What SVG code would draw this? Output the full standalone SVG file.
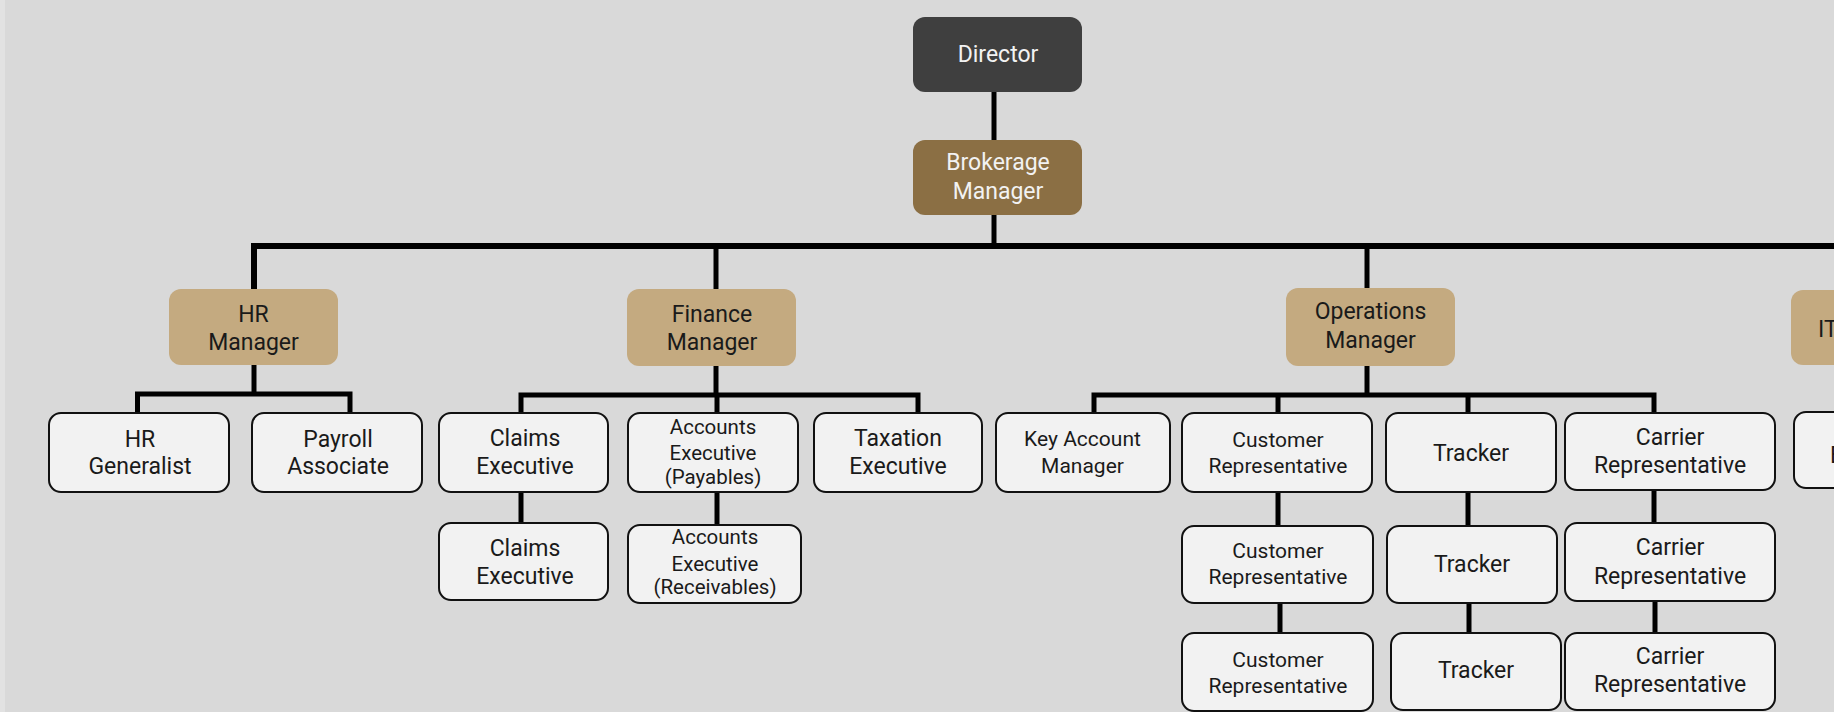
<svg xmlns="http://www.w3.org/2000/svg" width="1834" height="712" viewBox="0 0 1834 712">
<style>
.bg{fill:#d9d9d9}
.conn{fill:none;stroke:#000;stroke-width:5;stroke-linejoin:miter;stroke-linecap:butt}
.bus{stroke-width:6}
.top{fill:#3f3f3f}
.brk{fill:#8b6f44}
.mgr{fill:#c4aa80}
.box{fill:#f2f2f2;stroke:#111;stroke-width:2}
text{font-family:Roboto,"Noto Sans","Liberation Sans",sans-serif;font-size:23px;text-anchor:middle;fill:#1a1a1a}
.lt{fill:#f2f2f2}
.sm{font-size:21px}
.xs{font-size:20.5px}
</style>
<rect class="bg" x="0" y="0" width="1834" height="712"/>
<rect x="0" y="0" width="5" height="712" fill="#e2e2e2"/>
<g id="connectors">
<path class="conn" d="M994 92V140"/>
<path class="conn" d="M994 215V246"/>
<path class="conn bus" d="M254 289V246H1834"/>
<path class="conn" d="M716 246V289"/>
<path class="conn" d="M1367 246V288"/>
<path class="conn" d="M254 365V394"/>
<path class="conn" d="M137.5 413V394H350V413"/>
<path class="conn" d="M716 366V395"/>
<path class="conn" d="M521 413V395H918V413"/>
<path class="conn" d="M717 395V413"/>
<path class="conn" d="M521 492V523"/>
<path class="conn" d="M717 492V525"/>
<path class="conn" d="M1367 366V395"/>
<path class="conn" d="M1094 413V395H1654V413"/>
<path class="conn" d="M1278 395V413"/>
<path class="conn" d="M1468 395V413"/>
<path class="conn" d="M1278 492V526"/>
<path class="conn" d="M1280 603V633"/>
<path class="conn" d="M1468 492V526"/>
<path class="conn" d="M1469 603V633"/>
<path class="conn" d="M1654 490V523"/>
<path class="conn" d="M1655 601V633"/>
</g>
<g id="director">
<rect class="top" x="913" y="17" width="169" height="75" rx="12"/>
<text class="lt" x="998" y="62">Director</text>
</g>
<g id="brokerage-manager">
<rect class="brk" x="913" y="140" width="169" height="75" rx="12"/>
<text class="lt" x="998" y="170">Brokerage</text>
<text class="lt" x="998" y="199">Manager</text>
</g>
<g id="hr-manager">
<rect class="mgr" x="169" y="289" width="169" height="76" rx="12"/>
<text x="253.5" y="322">HR</text>
<text x="253.5" y="350">Manager</text>
</g>
<g id="finance-manager">
<rect class="mgr" x="627" y="289" width="169" height="77" rx="12"/>
<text x="712" y="322">Finance</text>
<text x="712" y="350">Manager</text>
</g>
<g id="operations-manager">
<rect class="mgr" x="1286" y="288" width="169" height="78" rx="12"/>
<text x="1370.5" y="319">Operations</text>
<text x="1370.5" y="348">Manager</text>
</g>
<g id="it-manager">
<rect class="mgr" x="1791" y="290" width="169" height="75" rx="12"/>
<text x="1818" y="337" style="text-anchor:start">IT</text>
</g>
<g id="hr-generalist">
<rect class="box" x="49" y="413" width="180" height="79" rx="12"/>
<text x="140" y="447">HR</text>
<text x="140" y="474">Generalist</text>
</g>
<g id="payroll-associate">
<rect class="box" x="252" y="413" width="170" height="79" rx="12"/>
<text x="338" y="447">Payroll</text>
<text x="338" y="474">Associate</text>
</g>
<g id="claims-executive-1">
<rect class="box" x="439" y="413" width="169" height="79" rx="12"/>
<text x="525" y="446">Claims</text>
<text x="525" y="474">Executive</text>
</g>
<g id="claims-executive-2">
<rect class="box" x="439" y="523" width="169" height="77" rx="12"/>
<text x="525" y="556">Claims</text>
<text x="525" y="584">Executive</text>
</g>
<g id="accounts-payables">
<rect class="box" x="628" y="413" width="170" height="79" rx="12"/>
<text class="xs" x="713" y="434">Accounts</text>
<text class="xs" x="713" y="460">Executive</text>
<text class="xs" x="713" y="484">(Payables)</text>
</g>
<g id="accounts-receivables">
<rect class="box" x="628" y="525" width="173" height="78" rx="12"/>
<text class="xs" x="715" y="544">Accounts</text>
<text class="xs" x="715" y="571">Executive</text>
<text class="xs" x="715" y="594">(Receivables)</text>
</g>
<g id="taxation-executive">
<rect class="box" x="814" y="413" width="168" height="79" rx="12"/>
<text x="898" y="446">Taxation</text>
<text x="898" y="474">Executive</text>
</g>
<g id="key-account-manager">
<rect class="box" x="996" y="413" width="174" height="79" rx="12"/>
<text class="sm" x="1082.5" y="446">Key Account</text>
<text class="sm" x="1082.5" y="473">Manager</text>
</g>
<g id="customer-representative-1">
<rect class="box" x="1182" y="413" width="190" height="79" rx="12"/>
<text class="sm" x="1278" y="447">Customer</text>
<text class="sm" x="1278" y="473">Representative</text>
</g>
<g id="customer-representative-2">
<rect class="box" x="1182" y="526" width="191" height="77" rx="12"/>
<text class="sm" x="1278" y="558">Customer</text>
<text class="sm" x="1278" y="584">Representative</text>
</g>
<g id="customer-representative-3">
<rect class="box" x="1182" y="633" width="191" height="78" rx="12"/>
<text class="sm" x="1278" y="667">Customer</text>
<text class="sm" x="1278" y="693">Representative</text>
</g>
<g id="tracker-1">
<rect class="box" x="1386" y="413" width="170" height="79" rx="12"/>
<text x="1471" y="461">Tracker</text>
</g>
<g id="tracker-2">
<rect class="box" x="1387" y="526" width="170" height="77" rx="12"/>
<text x="1472" y="572">Tracker</text>
</g>
<g id="tracker-3">
<rect class="box" x="1391" y="633" width="170" height="77" rx="12"/>
<text x="1476" y="678">Tracker</text>
</g>
<g id="carrier-representative-1">
<rect class="box" x="1565" y="413" width="210" height="77" rx="12"/>
<text x="1670" y="445">Carrier</text>
<text x="1670" y="473">Representative</text>
</g>
<g id="carrier-representative-2">
<rect class="box" x="1565" y="523" width="210" height="78" rx="12"/>
<text x="1670" y="555">Carrier</text>
<text x="1670" y="584">Representative</text>
</g>
<g id="carrier-representative-3">
<rect class="box" x="1565" y="633" width="210" height="77" rx="12"/>
<text x="1670" y="664">Carrier</text>
<text x="1670" y="692">Representative</text>
</g>
<g id="it-staff">
<rect class="box" x="1794" y="412" width="180" height="76" rx="12"/>
<text x="1830" y="463" style="text-anchor:start">E</text>
</g>
</svg>
